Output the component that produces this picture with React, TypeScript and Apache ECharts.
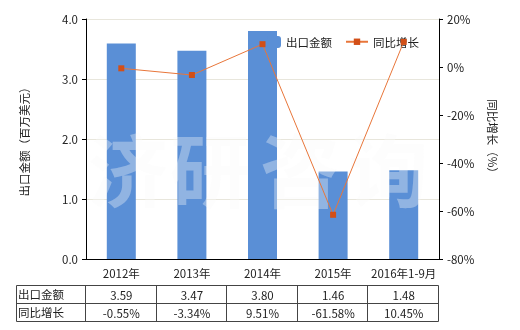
import React, { useEffect, useRef } from "react";
import * as echarts from "echarts";

const categories = ["2012年", "2013年", "2014年", "2015年", "2016年1-9月"];
const exportValues = [3.59, 3.47, 3.8, 1.46, 1.48];
const growthValues = [-0.55, -3.34, 9.51, -61.58, 10.45];
const seriesNames = ["出口金额", "同比增长"];
const watermarkChars = ["济", "研", "咨", "询"];

const FONT = "'Noto Sans CJK SC', 'Microsoft YaHei', sans-serif";
const FS = 11.5;
const GRID = { left: 86, right: 81, top: 19, bottom: 71 };
const W = 520;
const H = 330;

export default function App() {
  const ref = useRef<HTMLDivElement>(null);
  useEffect(() => {
    if (!ref.current) return;
    const chart = echarts.init(ref.current, undefined, { renderer: "svg" });
    const x0 = GRID.left;
    const x1 = W - GRID.right;
    const cw = (x1 - x0) / categories.length;
    const tTop = 285.5;
    const rowH = 18;
    const tLeft = 16.5;
    const graphics: any[] = [];
    const wmX = [128, 210, 300, 388];
    watermarkChars.forEach((c, i) => {
      graphics.push({
        type: "text",
        x: wmX[i],
        y: 166,
        z: 5,
        silent: true,
        style: {
          text: c,
          fontSize: 80,
          fontWeight: "bold",
          fontFamily: FONT,
          fill: "rgba(250,250,250,0.35)",
          align: "center",
          verticalAlign: "middle",
        },
      });
    });
    const lineStyle = { stroke: "#444", lineWidth: 1 };
    for (let r = 0; r <= 2; r++) {
      graphics.push({
        type: "line",
        shape: { x1: tLeft, y1: tTop + r * rowH, x2: x1 - 0.5, y2: tTop + r * rowH },
        style: lineStyle,
      });
    }
    const vx = [tLeft];
    for (let i = 0; i <= categories.length; i++) vx.push(Math.round(x0 + i * cw) - 0.5);
    vx.forEach((x) => {
      graphics.push({
        type: "line",
        shape: { x1: x, y1: tTop, x2: x, y2: tTop + 2 * rowH },
        style: lineStyle,
      });
    });
    const rows = [
      { name: seriesNames[0], vals: exportValues.map((v) => v.toFixed(2)) },
      { name: seriesNames[1], vals: growthValues.map((v) => v.toFixed(2) + "%") },
    ];
    rows.forEach((row, r) => {
      const cy = tTop + r * rowH + rowH / 2;
      graphics.push({
        type: "text",
        x: 18,
        y: cy - 1,
        style: { text: row.name, fontSize: FS, fontFamily: FONT, fill: "#222", align: "left", verticalAlign: "middle" },
      });
      row.vals.forEach((t, i) => {
        graphics.push({
          type: "text",
          x: x0 + (i + 0.5) * cw,
          y: cy,
          style: { text: t, fontSize: FS, fontFamily: FONT, fill: "#222", align: "center", verticalAlign: "middle" },
        });
      });
    });

    chart.setOption({
      animation: false,
      textStyle: { fontFamily: FONT },
      grid: { ...GRID },
      legend: [
        {
          data: [seriesNames[0]],
          left: 262,
          top: 31,
          itemWidth: 14,
          itemHeight: 12,
          itemGap: 5,
          textStyle: { fontSize: FS, color: "#222", fontFamily: FONT },
        },
        {
          data: [seriesNames[1]],
          left: 340,
          top: 31,
          itemWidth: 22,
          itemHeight: 8,
          textStyle: { fontSize: FS, color: "#222", fontFamily: FONT },
        },
      ],
      xAxis: {
        type: "category",
        data: categories,
        axisLine: { lineStyle: { color: "#000" } },
        axisTick: { alignWithLabel: true, length: 4, lineStyle: { color: "#000" } },
        axisLabel: { color: "#222", fontSize: FS, margin: 8, interval: 0 },
      },
      yAxis: [
        {
          type: "value",
          min: 0,
          max: 4,
          interval: 1,
          name: "出口金额（百万美元）",
          nameLocation: "middle",
          nameGap: 56,
          nameRotate: 90,
          nameTextStyle: { fontSize: FS, color: "#222" },
          axisLine: { show: true, lineStyle: { color: "#000" } },
          axisTick: { show: true, length: 4, lineStyle: { color: "#000" } },
          axisLabel: { color: "#222", fontSize: FS, formatter: (v: number) => v.toFixed(1) },
          splitLine: { lineStyle: { color: "#e8e6dc" } },
        },
        {
          type: "value",
          min: -80,
          max: 20,
          interval: 20,
          name: "同比增长（%）",
          nameLocation: "middle",
          nameGap: 48,
          nameRotate: -90,
          nameTextStyle: { fontSize: FS, color: "#222" },
          axisLine: { show: true, lineStyle: { color: "#000" } },
          axisTick: { show: true, length: 4, lineStyle: { color: "#000" } },
          axisLabel: { color: "#222", fontSize: FS, formatter: "{value}%" },
          splitLine: { show: false },
        },
      ],
      series: [
        {
          name: seriesNames[0],
          type: "bar",
          data: exportValues,
          barWidth: 29,
          itemStyle: { color: "#5a8fd6" },
        },
        {
          name: seriesNames[1],
          type: "line",
          yAxisIndex: 1,
          data: growthValues,
          symbol: "rect",
          symbolSize: 6,
          z: 10,
          lineStyle: { color: "#e8763a", width: 1 },
          itemStyle: { color: "#d24f17" },
        },
      ],
      graphic: graphics,
    });
    return () => chart.dispose();
  }, []);
  return <div ref={ref} style={{ position: "fixed", left: 0, top: 0, width: W, height: H }} />;
}
